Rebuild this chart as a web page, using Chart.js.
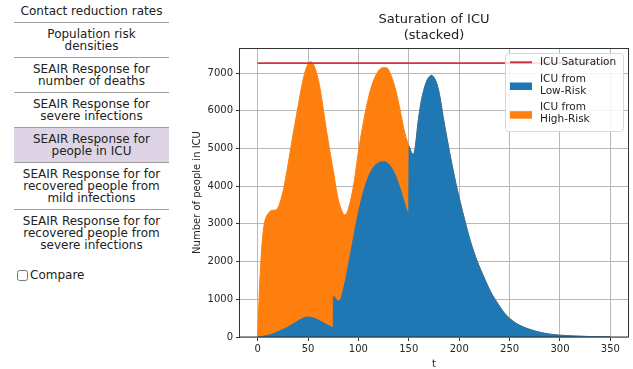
<!DOCTYPE html>
<html>
<head>
<meta charset="utf-8">
<script src="https://cdn.jsdelivr.net/npm/chart.js@4.4.1/dist/chart.umd.min.js"></script>
<style>
body { margin: 0; width: 633px; height: 369px; background: #fff; font-family: 'DejaVu Sans', sans-serif; overflow: hidden; position: relative; }
#menu { position: absolute; left: 14px; top: 0; width: 155px; }
.item { text-align: center; font-size: 12px; line-height: 12px; padding: 5px 0; border-bottom: 1px solid #a0a0a0; color: #222; white-space: nowrap; }
.item.active { background: #ddd5e5; }
.item.last { border-bottom: none; }
#cmp { position: absolute; left: 17px; top: 268px; font-size: 12px; color: #222; display: flex; align-items: center; }
#cmp input { margin: 0 2px 0 0; width: 11px; height: 11px; }
#chart { position: absolute; left: 180px; top: 0; }
</style>
</head>
<body>
<div id="menu">
  <div class="item">Contact reduction rates</div>
  <div class="item">Population risk<br>densities</div>
  <div class="item">SEAIR Response for<br>number of deaths</div>
  <div class="item">SEAIR Response for<br>severe infections</div>
  <div class="item active">SEAIR Response for<br>people in ICU</div>
  <div class="item">SEAIR Response for for<br>recovered people from<br>mild infections</div>
  <div class="item last">SEAIR Response for for<br>recovered people from<br>severe infections</div>
</div>
<label id="cmp"><input type="checkbox">Compare</label>
<canvas id="chart" width="453" height="369"></canvas>
<script>
// time in days (a repeated step marks a jump in the series)
const tValues = [0, 1, 2, 3, 4, 5, 6, 8, 11, 14, 17, 20, 23, 26, 29, 32, 35, 38, 41, 44, 47, 50, 52.5, 55, 58, 61, 64, 67, 70, 73, 75,
  75.3, 78, 80, 82, 85, 87, 90, 93, 96, 100, 105, 110, 115, 120, 124, 128, 132, 136, 140, 143, 146, 148, 150,
  150.3, 152, 154.4, 156.5, 159, 162, 165, 168, 170.5, 172.5, 175, 178, 181, 184, 188, 193, 198, 205, 211, 218, 225,
  231, 238, 245, 251, 258, 265, 272, 280, 290, 300, 315, 330, 350];
const lowRisk = [0, 3, 6, 10, 15, 20, 25, 32, 50, 75, 105, 140, 175, 210, 250, 295, 340, 390, 440, 485, 520, 530, 525, 510, 475, 440, 395, 350, 305, 270, 245,
  1080, 1000, 960, 990, 1250, 1480, 1900, 2330, 2760, 3300, 3850, 4250, 4500, 4620, 4650, 4630, 4520, 4330, 4050, 3800, 3530, 3370, 3240,
  5060, 4930, 4840, 5050, 5650, 6200, 6560, 6800, 6910, 6940, 6880, 6700, 6350, 5850, 5250, 4550, 3920, 3150, 2550, 2000, 1560,
  1210, 900, 630, 470, 340, 250, 185, 125, 75, 48, 25, 12, 5];
const highRisk = [0, 697, 1394, 1890, 2335, 2630, 2875, 3118, 3240, 3285, 3260, 3280, 3465, 3750, 4140, 4575, 5010, 5410, 5810, 6195, 6510, 6710, 6775, 6740, 6575, 6280, 5855, 5350, 4895, 4450, 4175,
  3300, 2920, 2690, 2470, 2020, 1760, 1500, 1390, 1390, 1620, 1850, 2100, 2300, 2440, 2490, 2510, 2450, 2320, 2150, 2000, 1890, 1860, 1840,
  0, 0, 0, 0, 0, 0, 0, 0, 0, 0, 0, 0, 0, 0, 0, 0, 0, 0, 0, 0, 0,
  0, 0, 0, 0, 0, 0, 0, 0, 0, 0, 0, 0, 0];
const icuSaturation = 7265;
const xTicks = [0, 50, 100, 150, 200, 250, 300, 350];
const yTicks = [0, 1000, 2000, 3000, 4000, 5000, 6000, 7000];
const titleLines = ['Saturation of ICU', '(stacked)'];

Chart.defaults.font.family = 'DejaVu Sans';
Chart.defaults.color = '#262626';

const lowPts = tValues.map((t, i) => ({x: t, y: lowRisk[i]}));
const stackPts = tValues.map((t, i) => ({x: t, y: lowRisk[i] + highRisk[i]}));
const satPts = [{x: tValues[0], y: icuSaturation}, {x: tValues[tValues.length - 1], y: icuSaturation}];

// title, frame and in-plot legend, drawn the matplotlib way
const decor = {
  id: 'decor',
  afterDraw(chart) {
    const {ctx, chartArea: a} = chart;
    ctx.save();
    ctx.strokeStyle = '#333';
    ctx.lineWidth = 1;
    ctx.strokeRect(Math.round(a.left) - 0.5, Math.round(a.top) + 0.5, Math.round(a.right - a.left) + 1, Math.round(a.bottom - a.top) - 0.5);

    ctx.fillStyle = '#222';
    ctx.font = '13px "DejaVu Sans"';
    ctx.textAlign = 'center';
    ctx.textBaseline = 'middle';
    const cx = (a.left + a.right) / 2;
    ctx.fillText(titleLines[0], cx, 20);
    ctx.fillText(titleLines[1], cx, 36);

    const lw = 118, lh = 78;
    const lx = a.right - lw - 5, ly = a.top + 5;
    ctx.beginPath();
    ctx.roundRect(lx + 0.5, ly + 0.5, lw, lh, 3);
    ctx.fillStyle = 'rgba(255,255,255,0.85)';
    ctx.fill();
    ctx.strokeStyle = '#d8d8d8';
    ctx.stroke();

    ctx.font = '10.5px "DejaVu Sans"';
    ctx.textAlign = 'left';
    let y = ly + 9.3;
    chart.data.datasets.forEach(ds => {
      const lines = ds.label.split('\n');
      const mid = y + (lines.length - 1) * 6;
      if (ds.fill) {
        ctx.fillStyle = ds.backgroundColor;
        ctx.fillRect(lx + 5, mid - 2.5, 22, 7.5);
      } else {
        ctx.strokeStyle = ds.borderColor;
        ctx.lineWidth = 2;
        ctx.beginPath();
        ctx.moveTo(lx + 5, mid);
        ctx.lineTo(lx + 27, mid);
        ctx.stroke();
      }
      ctx.fillStyle = '#222';
      lines.forEach((s, k) => ctx.fillText(s, lx + 35, y + k * 12));
      y += (lines.length - 1) * 12 + 16.7;
    });
    ctx.restore();
  }
};

new Chart(document.getElementById('chart'), {
  type: 'line',
  data: {
    datasets: [
      {label: 'ICU Saturation', data: satPts, borderColor: '#d0343a', borderWidth: 1.6, pointRadius: 0, fill: false},
      {label: 'ICU from\nLow-Risk', data: lowPts, borderColor: '#1f77b4', backgroundColor: '#1f77b4', borderWidth: 1,
        pointRadius: 0, fill: 'origin', cubicInterpolationMode: 'monotone'},
      {label: 'ICU from\nHigh-Risk', data: stackPts, borderColor: '#ff7f0e', backgroundColor: '#ff7f0e', borderWidth: 1,
        pointRadius: 0, fill: 'origin', cubicInterpolationMode: 'monotone'}
    ]
  },
  options: {
    responsive: false,
    animation: false,
    layout: {padding: {top: 48, right: 5, left: 0, bottom: 0}},
    plugins: {legend: {display: false}, tooltip: {enabled: false}},
    scales: {
      x: {
        type: 'linear', min: -17.5, max: 367.5, z: 1,
        afterBuildTicks: s => { s.ticks = xTicks.map(v => ({value: v})); },
        afterFit: s => { s.height = 32; },
        grid: {color: '#b8b8b8', tickColor: '#333', tickLength: 4},
        border: {display: false},
        ticks: {font: {size: 10}, padding: 2, maxRotation: 0, callback: v => String(v)},
        title: {display: true, text: 't', font: {size: 10, lineHeight: 1}, padding: {top: 0, bottom: 0}}
      },
      y: {
        type: 'linear', min: 0, max: 7665, z: 1,
        afterBuildTicks: s => { s.ticks = yTicks.map(v => ({value: v})); },
        afterFit: s => { s.width = 60; },
        grid: {color: '#b8b8b8', tickColor: '#333', tickLength: 4},
        border: {display: false},
        ticks: {font: {size: 10}, padding: 3, callback: v => String(v)},
        title: {display: true, text: 'Number of people in ICU', font: {size: 10, lineHeight: 1.2}, padding: {top: 11, bottom: 0}}
      }
    }
  },
  plugins: [decor]
});
</script>
</body>
</html>
